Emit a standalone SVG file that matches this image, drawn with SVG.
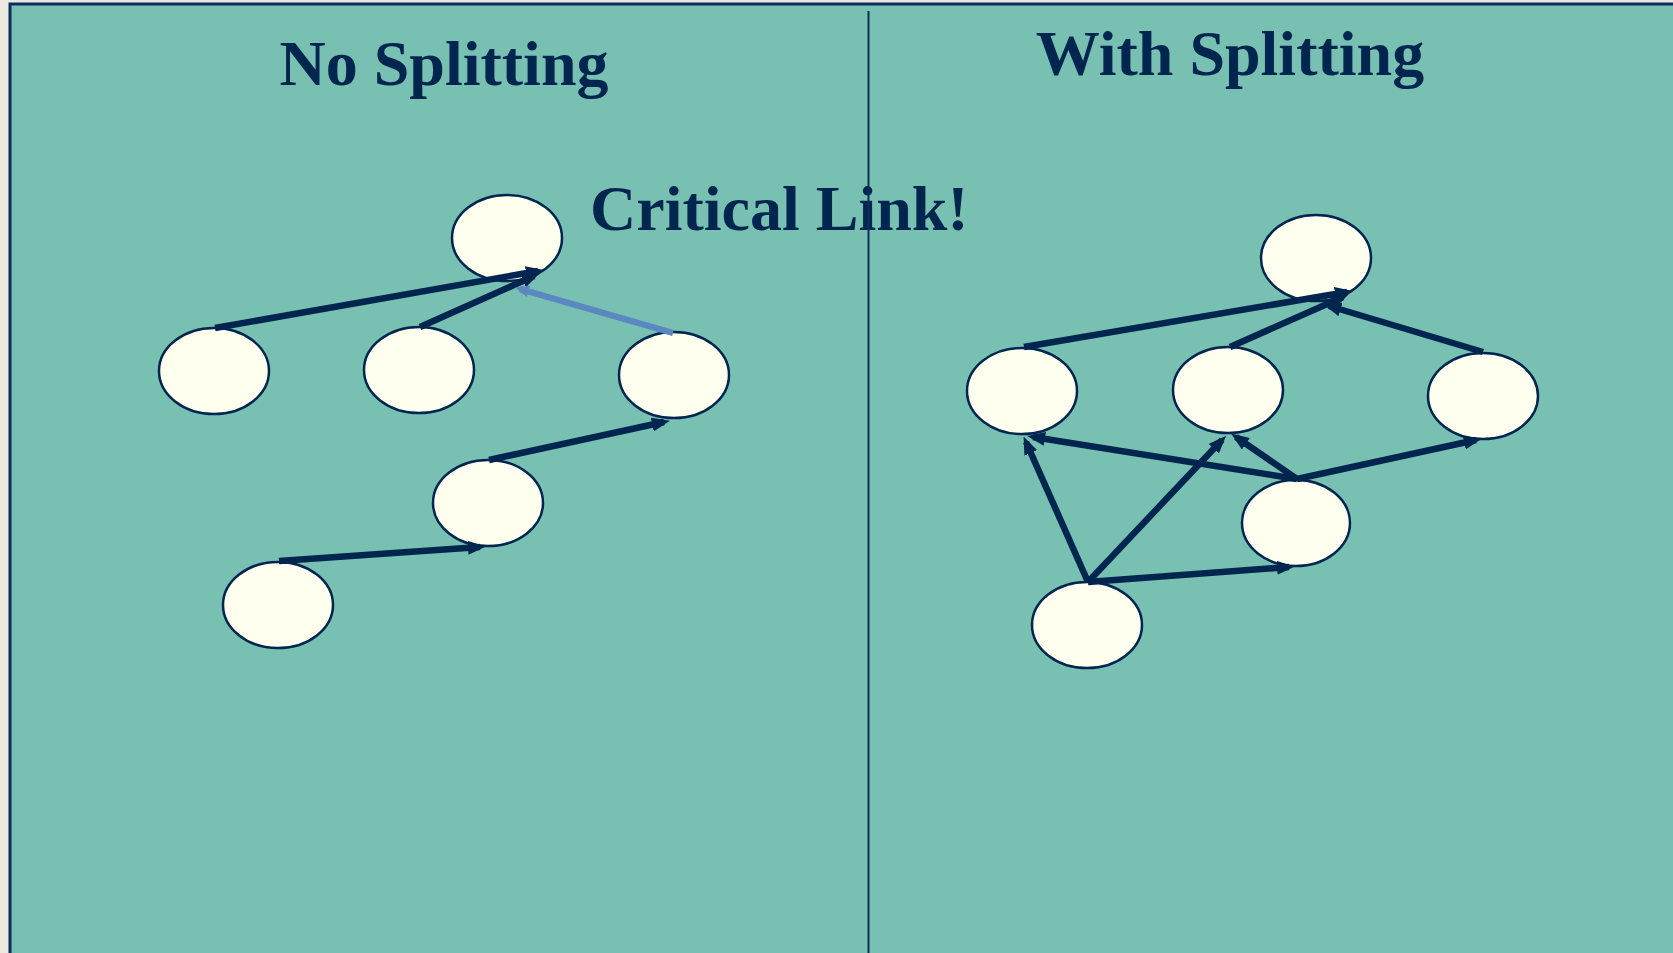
<svg xmlns="http://www.w3.org/2000/svg" width="1673" height="953" viewBox="0 0 1673 953">
<defs>
<style>
.title{font-family:"Liberation Serif","Times New Roman",serif;font-weight:bold;font-size:64px;fill:#00264f}
.node{fill:#fffff0;stroke:#00264f;stroke-width:2.5}
.edge{stroke:#00264f;stroke-width:6.5;fill:none}
.crit{stroke:#5b88c0;stroke-width:6;fill:none}
</style>
<marker id="ah" markerUnits="userSpaceOnUse" viewBox="0 0 18 14" markerWidth="18" markerHeight="14" refX="12" refY="7" orient="auto">
<path d="M0,0 L18,7 L0,14 z" fill="#00264f"/>
</marker>
<marker id="ahc" markerUnits="userSpaceOnUse" viewBox="0 0 14 12" markerWidth="14" markerHeight="12" refX="9" refY="6" orient="auto">
<path d="M0,0 L14,6 L0,12 z" fill="#5b88c0"/>
</marker>
</defs>
<rect x="0" y="0" width="1673" height="953" fill="#ebe9df"/>
<rect x="10" y="4" width="1670" height="960" fill="#78c0b2" stroke="#0d2e5a" stroke-width="3"/>
<text class="title" x="444" y="85" text-anchor="middle">No Splitting</text>
<text class="title" x="1230" y="75" text-anchor="middle">With Splitting</text>
<g id="nodes-left">
<g id="L_top"><ellipse class="node" cx="507" cy="238" rx="55" ry="43"/></g>
<g id="L_A"><ellipse class="node" cx="214" cy="371" rx="55" ry="43"/></g>
<g id="L_B"><ellipse class="node" cx="419" cy="370" rx="55" ry="43"/></g>
<g id="L_C"><ellipse class="node" cx="674" cy="375" rx="55" ry="43"/></g>
<g id="L_D"><ellipse class="node" cx="488" cy="503" rx="55" ry="43"/></g>
<g id="L_E"><ellipse class="node" cx="278" cy="605" rx="55" ry="43"/></g>
</g>
<g id="nodes-right">
<g id="R_top"><ellipse class="node" cx="1316" cy="258" rx="55" ry="43"/></g>
<g id="R_F"><ellipse class="node" cx="1022" cy="391" rx="55" ry="43"/></g>
<g id="R_G"><ellipse class="node" cx="1228" cy="390" rx="55" ry="43"/></g>
<g id="R_H"><ellipse class="node" cx="1483" cy="396" rx="55" ry="43"/></g>
<g id="R_I"><ellipse class="node" cx="1296" cy="523" rx="54" ry="43"/></g>
<g id="R_J"><ellipse class="node" cx="1087" cy="625" rx="55" ry="43"/></g>
</g>
<g id="connectors">
<line class="edge" x1="215" y1="328" x2="538" y2="271" marker-end="url(#ah)"/>
<line class="edge" x1="420" y1="327" x2="534" y2="276" marker-end="url(#ah)"/>
<line class="crit" x1="673" y1="333" x2="520" y2="289" marker-end="url(#ahc)"/>
<line class="edge" x1="489" y1="460" x2="664" y2="422" marker-end="url(#ah)"/>
<line class="edge" x1="279" y1="561" x2="480" y2="547" marker-end="url(#ah)"/>
<line class="edge" x1="1024" y1="347" x2="1347" y2="292" marker-end="url(#ah)"/>
<line class="edge" x1="1230" y1="347" x2="1343" y2="297" marker-end="url(#ah)"/>
<line class="edge" x1="1483" y1="352" x2="1329" y2="306" marker-end="url(#ah)"/>
<line class="edge" x1="1297" y1="479" x2="1033" y2="437" marker-end="url(#ah)"/>
<line class="edge" x1="1297" y1="479" x2="1236" y2="437" marker-end="url(#ah)"/>
<line class="edge" x1="1297" y1="479" x2="1476" y2="440" marker-end="url(#ah)"/>
<line class="edge" x1="1088" y1="582" x2="1026" y2="442" marker-end="url(#ah)"/>
<line class="edge" x1="1088" y1="582" x2="1222" y2="440" marker-end="url(#ah)"/>
<line class="edge" x1="1088" y1="582" x2="1289" y2="567" marker-end="url(#ah)"/>
</g>
<text class="title" x="590" y="230">Critical Link!</text>
<line x1="868.5" y1="11" x2="868.5" y2="953" stroke="#0d2e5a" stroke-width="2"/>
</svg>
